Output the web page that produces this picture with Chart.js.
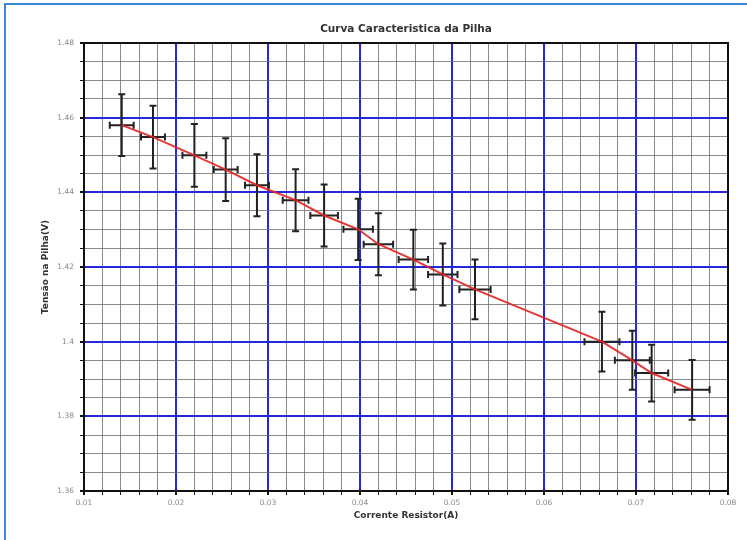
<!DOCTYPE html>
<html>
<head>
<meta charset="utf-8">
<title>Curva Caracteristica da Pilha</title>
<script src="https://cdn.jsdelivr.net/npm/chart.js@4.4.1/dist/chart.umd.min.js"></script>
<style>
    html, body { margin: 0; padding: 0; background: #fff; }
    #wrap { width: 747px; height: 540px; }
</style>
</head>
<body>
<div id="wrap"><canvas id="pilhaChart" width="747" height="540"></canvas></div>
<script>
// measured points (current in A, voltage in V)
const corrente = [0.0141, 0.0175, 0.0220, 0.0254, 0.0288, 0.0330, 0.0361, 0.0398,
                  0.0420, 0.0458, 0.0490, 0.0525, 0.0663, 0.0696, 0.0717, 0.0761];
const tensao = [1.4580, 1.4548, 1.4499, 1.4461, 1.4419, 1.4379, 1.4338, 1.4301,
                1.4261, 1.4220, 1.4180, 1.4140, 1.4000, 1.3950, 1.3916, 1.3871];
// error bar half-widths
const erroCorrente = [0.0013, 0.0013, 0.0013, 0.0013, 0.0013, 0.0014, 0.0015, 0.0016,
                      0.0016, 0.0016, 0.0016, 0.0017, 0.0019, 0.0019, 0.0018, 0.0019];
const erroTensao = [0.0083, 0.0084, 0.0084, 0.0084, 0.0083, 0.0083, 0.0083, 0.0082,
                    0.0083, 0.0080, 0.0083, 0.0080, 0.0080, 0.0079, 0.0076, 0.0080];

const xTickLabels = ['0.01', '0.02', '0.03', '0.04', '0.05', '0.06', '0.07', '0.08'];
const yTickLabels = ['1.36', '1.38', '1.4', '1.42', '1.44', '1.46', '1.48'];

const BLUE = '#2626dc';
const MINOR = 'rgba(110,110,110,0.8)';

// minor grid: x every 0.002 A, y every 0.005 V
function xTicks(scale) {
    const ticks = [];
    for (let i = 0; i <= 35; i++) ticks.push({ value: (10 + 2 * i) / 1000 });
    scale.ticks = ticks;
}
function yTicks(scale) {
    const ticks = [];
    for (let i = 0; i <= 24; i++) ticks.push({ value: (1360 + 5 * i) / 1000 });
    scale.ticks = ticks;
}

const errorBars = {
    id: 'errorBars',
    beforeDatasetsDraw(chart) {
        const { ctx, scales: { x, y } } = chart;
        const cap = 3.5;
        ctx.save();
        ctx.strokeStyle = '#222';
        ctx.lineWidth = 2;
        corrente.forEach((cx, i) => {
            const px = x.getPixelForValue(cx);
            const py = y.getPixelForValue(tensao[i]);
            const top = y.getPixelForValue(tensao[i] + erroTensao[i]);
            const bot = y.getPixelForValue(tensao[i] - erroTensao[i]);
            const lft = x.getPixelForValue(cx - erroCorrente[i]);
            const rgt = x.getPixelForValue(cx + erroCorrente[i]);
            ctx.beginPath();
            ctx.moveTo(px, top); ctx.lineTo(px, bot);
            ctx.moveTo(px - cap, top); ctx.lineTo(px + cap, top);
            ctx.moveTo(px - cap, bot); ctx.lineTo(px + cap, bot);
            ctx.moveTo(lft, py); ctx.lineTo(rgt, py);
            ctx.moveTo(lft, py - cap); ctx.lineTo(lft, py + cap);
            ctx.moveTo(rgt, py - cap); ctx.lineTo(rgt, py + cap);
            ctx.stroke();
        });
        ctx.restore();
    }
};

const frame = {
    id: 'frame',
    beforeDraw(chart) {
        const ctx = chart.ctx;
        ctx.save();
        ctx.strokeStyle = '#3b87d9';
        ctx.lineWidth = 2;
        ctx.beginPath();
        ctx.moveTo(5, 540); ctx.lineTo(5, 4); ctx.lineTo(747, 4);
        ctx.stroke();
        ctx.restore();
    },
    afterDraw(chart) {
        const { ctx, chartArea: a } = chart;
        ctx.save();
        ctx.strokeStyle = '#111';
        ctx.lineWidth = 2;
        ctx.strokeRect(a.left, a.top, a.right - a.left, a.bottom - a.top);
        ctx.fillStyle = '#333';
        ctx.font = 'bold 10.5px "DejaVu Sans"';
        ctx.textAlign = 'center';
        ctx.textBaseline = 'middle';
        ctx.fillText('Curva Caracteristica da Pilha', (a.left + a.right) / 2, 29);
        ctx.restore();
    }
};

const ctx = document.getElementById('pilhaChart').getContext('2d');

new Chart(ctx, {
    type: 'scatter',
    data: {
        datasets: [{
            data: corrente.map((c, i) => ({ x: c, y: tensao[i] })),
            showLine: true,
            borderColor: 'rgba(226,34,34,0.9)',
            borderWidth: 2,
            pointRadius: 0,
            tension: 0
        }]
    },
    options: {
        responsive: false,
        animation: false,
        devicePixelRatio: 1,
        layout: { padding: { top: 43, right: 19, left: 0, bottom: 0 } },
        plugins: {
            legend: { display: false },
            tooltip: { enabled: false }
        },
        scales: {
            x: {
                type: 'linear',
                min: 0.01,
                max: 0.08,
                afterBuildTicks: xTicks,
                afterFit: s => { s.height = 49; },
                border: { display: true, color: '#111', width: 2 },
                grid: {
                    color: c => (c.index % 5 === 0 ? BLUE : MINOR),
                    lineWidth: c => (c.index % 5 === 0 ? 2 : 1),
                    tickColor: '#111',
                    tickLength: 4
                },
                ticks: {
                    autoSkip: false,
                    maxRotation: 0,
                    padding: 4,
                    color: '#8a8a8a',
                    font: { family: 'DejaVu Sans', size: 7.5 },
                    callback: (v, i) => (i % 5 === 0 ? xTickLabels[i / 5] : '')
                },
                title: {
                    display: true,
                    text: 'Corrente Resistor(A)',
                    color: '#333',
                    font: { family: 'DejaVu Sans', size: 9, weight: 'bold' },
                    padding: { top: 0, bottom: 18.6 }
                }
            },
            y: {
                type: 'linear',
                min: 1.36,
                max: 1.48,
                afterBuildTicks: yTicks,
                afterFit: s => { s.width = 84; },
                border: { display: true, color: '#111', width: 2 },
                grid: {
                    color: c => (c.index % 4 === 0 ? BLUE : MINOR),
                    lineWidth: c => (c.index % 4 === 0 ? 2 : 1),
                    tickColor: '#111',
                    tickLength: 4
                },
                ticks: {
                    autoSkip: false,
                    padding: 6,
                    color: '#8a8a8a',
                    font: { family: 'DejaVu Sans', size: 7.5 },
                    callback: (v, i) => (i % 4 === 0 ? yTickLabels[i / 4] : '')
                },
                title: {
                    display: true,
                    text: 'Tensão na Pilha(V)',
                    color: '#333',
                    font: { family: 'DejaVu Sans', size: 9, weight: 'bold' },
                    padding: { top: 40.6, bottom: 0 }
                }
            }
        }
    },
    plugins: [errorBars, frame]
});
</script>
</body>
</html>
